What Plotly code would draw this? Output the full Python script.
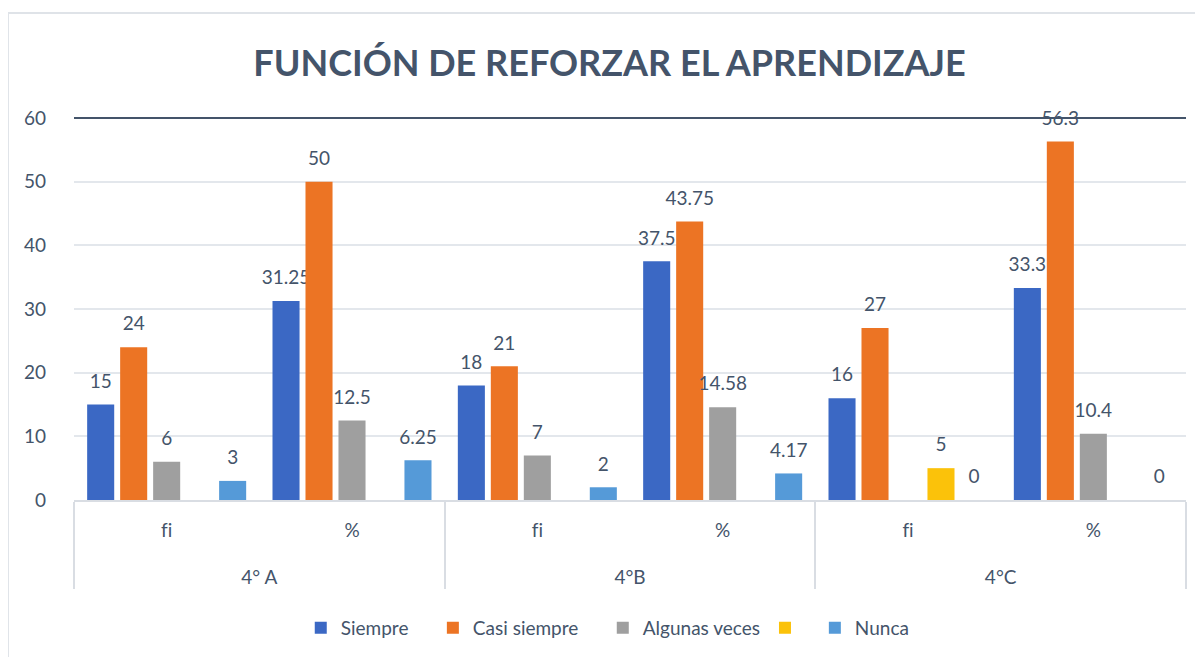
import plotly.graph_objects as go

# Categories (two-level axis)
grupos = ["4° A", "4° A", "4°B", "4°B", "4°C", "4°C"]
medidas = ["f\u200ci", "%", "f\u200ci", "%", "f\u200ci", "%"]

# Series values (None = no bar)
siempre = [15, 31.25, 18, 37.5, 16, 33.3]
casi_siempre = [24, 50, 21, 43.75, 27, 56.3]
algunas_veces = [6, 12.5, 7, 14.58, None, 10.4]
sin_nombre = [None, None, None, None, 5, None]
nunca = [3, 6.25, 2, 4.17, 0, 0]

series = [
    ("Siempre    ", siempre, "#3b68c4"),
    ("Casi siempre    ", casi_siempre, "#ec7424"),
    ("Algunas veces", algunas_veces, "#9f9f9f"),
    (" ", sin_nombre, "#fbc20a"),
    ("Nunca", nunca, "#559ad8"),
]

FONT = "Lato"
TXT = "#44546a"


def big(s):
    return f"<span style='font-size:19px'>{s}</span>"


x_top = ["<br><br><br><br>" + big(g) for g in grupos]
x_low = [big(m) for m in medidas]

fig = go.Figure()
for name, vals, color in series:
    labels = ["" if v is None else f"{v:g}" for v in vals]
    fig.add_trace(go.Bar(
        x=[x_top, x_low], y=vals, name=name,
        marker=dict(color=color, line=dict(width=0)),
        text=labels, textposition="outside", constraintext="none",
        texttemplate=big("%{text}") + "<br> ",
        textfont=dict(family=FONT, size=9, color=TXT),
        cliponaxis=False,
    ))

fig.update_layout(
    barmode="group",
    bargap=0.11,
    bargroupgap=0.18,
    width=1203, height=657,
    margin=dict(l=66, r=25, t=110, b=165),
    paper_bgcolor="white", plot_bgcolor="white",
    title=dict(text="<b>FUNCIÓN DE REFORZAR EL APRENDIZAJE</b>",
               x=0.5, xanchor="center", y=0.916, yanchor="middle",
               font=dict(family=FONT, size=36, color=TXT)),
    font=dict(family=FONT, size=19, color=TXT),
    legend=dict(orientation="h", x=0.48, xanchor="center", y=-0.335, yanchor="middle",
                font=dict(family=FONT, size=19, color=TXT), itemwidth=30,
                traceorder="normal"),
    showlegend=True,
)
fig.update_yaxes(range=[0, 60], dtick=10, showgrid=True, gridcolor="#e3e7ec", gridwidth=1.5,
                 zeroline=False, showline=False, ticks="", ticklabelstandoff=27,
                 automargin=False, tickfont=dict(family=FONT, size=19, color=TXT))
fig.update_xaxes(showline=True, linecolor="#d9dde3", linewidth=1.5, automargin=False,
                 showdividers=True, dividercolor="#d9dde3", dividerwidth=1.5,
                 ticklabelstandoff=24,
                 tickfont=dict(family=FONT, size=9, color=TXT))

# dark line along the top of the plot area (at 60) and outer chart border
fig.add_shape(type="line", xref="x domain", yref="y domain", x0=0, x1=1, y0=1, y1=1,
              line=dict(color="#44546a", width=2))
fig.add_shape(type="rect", xref="paper", yref="paper", x0=-0.0594, x1=1.02, y0=-0.43, y1=1.275,
              line=dict(color="#dfe3e8", width=2), layer="below")

fig.write_html("out.html")
